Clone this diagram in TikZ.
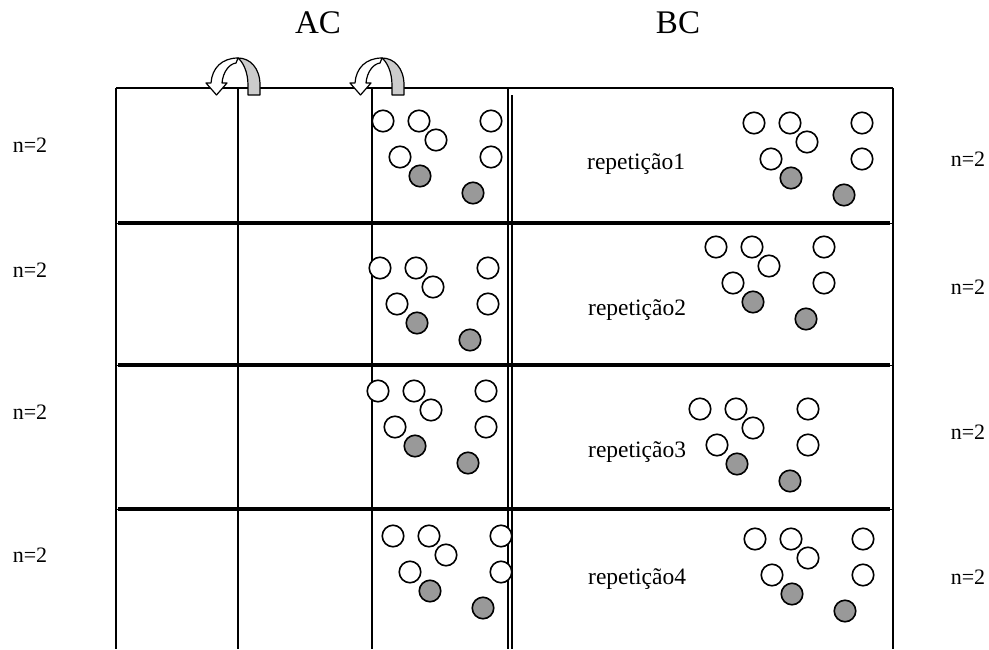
\documentclass[tikz,border=0pt]{standalone}
\usepackage{fontspec}
\setmainfont{Liberation Serif}
\definecolor{ballgray}{HTML}{999999}
\definecolor{arrowgray}{HTML}{CCCCCC}
\newcommand\ballset[3]{%
  \node[wball] (#1w1) at (#2,#3) {};
  \node[wball] (#1w2) at (#2+36,#3) {};
  \node[wball] (#1w3) at (#2+53,#3+19) {};
  \node[wball] (#1w4) at (#2+108,#3) {};
  \node[wball] (#1w5) at (#2+17,#3+36) {};
  \node[wball] (#1w6) at (#2+108,#3+36) {};
  \node[gball] (#1g1) at (#2+37,#3+55) {};
  \node[gball] (#1g2) at (#2+90,#3+72) {};
}
\begin{document}
\begin{tikzpicture}[x=1pt,y=-1pt,
  frame/.style={line width=2pt},
  dbl/.style={line width=1.6pt},
  rowline/.style={line width=4pt},
  wball/.style={circle, draw, line width=1.6pt, minimum size=21.5pt, inner sep=0pt, fill=white},
  gball/.style={wball, fill=ballgray},
  lbl/.style={font=\fontsize{22}{26}\selectfont, inner sep=0pt},
  rep/.style={font=\fontsize{23.5}{28}\selectfont, inner sep=0pt, anchor=base west},
  head/.style={font=\fontsize{33}{40}\selectfont, inner sep=0pt, anchor=base},
  arrowline/.style={line width=1.2pt, line join=round}]
\useasboundingbox (0,0) rectangle (989,649);

% frame
\draw[frame] (116,88) -- (893,88);
\foreach \x in {116,238,372,893} \draw[frame] (\x,88) -- (\x,649);
\draw[dbl] (508,88) -- (508,649);
\draw[dbl] (512,95) -- (512,649);
\foreach \y in {223,365,509} {
  \draw[line width=1pt] (116,\y) -- (893,\y);
  \draw[rowline] (118,\y) -- (890,\y);
}

% headings
\node[head] (ac) at (318,33) {AC};
\node[head] (bc) at (678,33) {BC};

% left labels
\node[lbl, anchor=base] (l1) at (30,152) {n=2};
\node[lbl, anchor=base] (l2) at (30,277) {n=2};
\node[lbl, anchor=base] (l3) at (30,419) {n=2};
\node[lbl, anchor=base] (l4) at (30,562) {n=2};
% right labels
\node[lbl, anchor=base] (r1) at (968,166) {n=2};
\node[lbl, anchor=base] (r2) at (968,294) {n=2};
\node[lbl, anchor=base] (r3) at (968,439) {n=2};
\node[lbl, anchor=base] (r4) at (968,584) {n=2};

% repetition labels
\node[rep] (rep1) at (587,169) {repetição1};
\node[rep] (rep2) at (588,315) {repetição2};
\node[rep] (rep3) at (588,457) {repetição3};
\node[rep] (rep4) at (588,584) {repetição4};

% balls
\ballset{aa}{383}{121}
\ballset{ab}{380}{268}
\ballset{ac}{378}{391}
\ballset{ad}{393}{536}
\ballset{ba}{754}{123}
\ballset{bb}{716}{247}
\ballset{bc}{700}{409}
\ballset{bd}{755}{539}

% curved arrows at the top
\foreach \s in {0,144} {
  \begin{scope}[shift={(\s,0)}]
    \draw[arrowline, fill=white] (238,58) .. controls (222,58) and (212,68) .. (211,83)
      -- (206,83) -- (216.5,95) -- (227,83) -- (222,83)
      .. controls (223,72) and (229,64) .. (236,63) -- cycle;
    \draw[arrowline, fill=arrowgray] (248,95) -- (260,95) -- (260,85)
      .. controls (260,68) and (250,58) .. (238,58)
      .. controls (243,62) and (248,72) .. (248,85) -- cycle;
  \end{scope}
}
\end{tikzpicture}
\end{document}
